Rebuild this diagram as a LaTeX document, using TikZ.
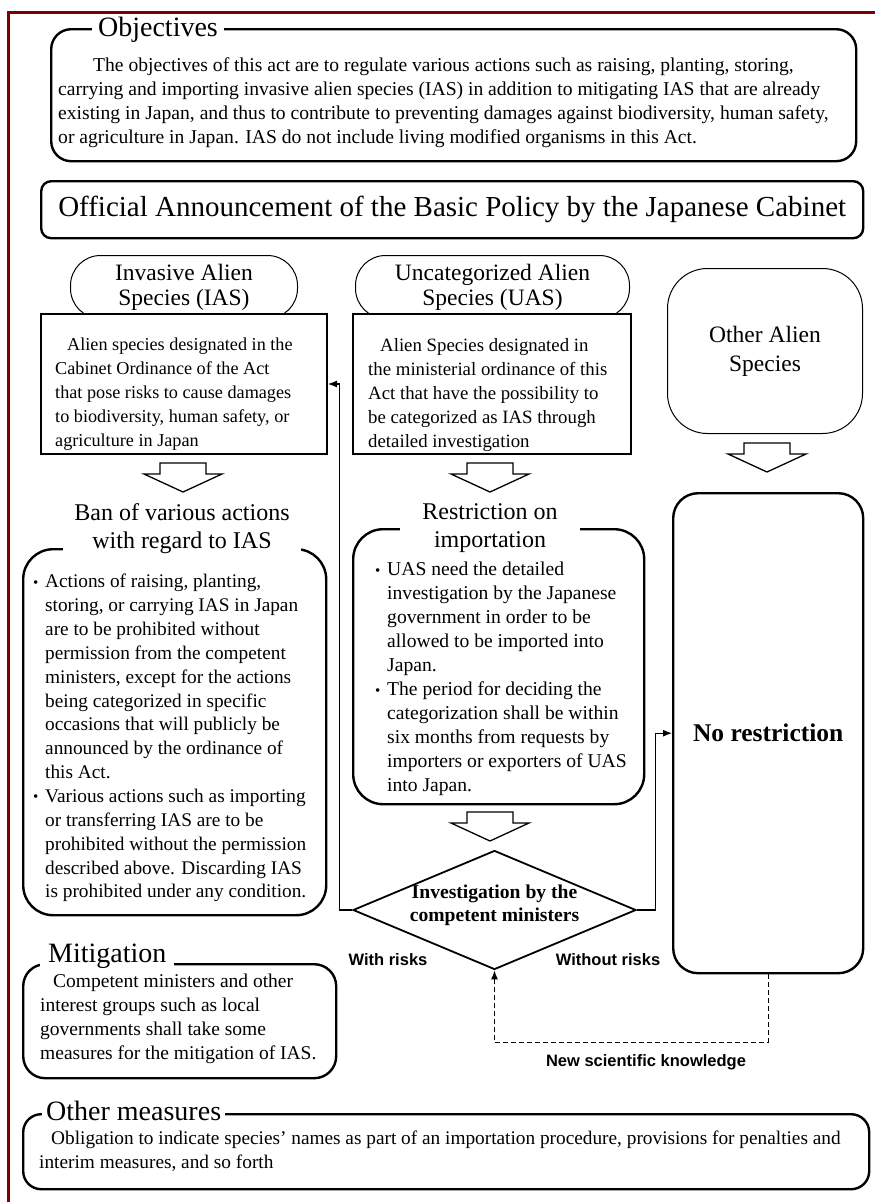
\documentclass[tikz,border=0pt]{standalone}
\usepackage{fontspec}
\setmainfont{Liberation Serif}
\newfontfamily\lsans{Liberation Sans}
\usetikzlibrary{shapes.geometric,arrows.meta}
\definecolor{framered}{RGB}{128,0,0}
\newcommand{\bul}{\makebox[12pt][l]{\raisebox{0.5pt}{\fontsize{15}{15}\selectfont\textbullet}}}
\newcommand{\ind}{\hspace*{12pt}}
\begin{document}
\begin{tikzpicture}[x=1pt,y=-1pt,
  heavy/.style={draw, line width=2.4pt},
  thinline/.style={draw, line width=1pt},
  body/.style={anchor=north west, inner sep=0pt, align=left},
  ttl/.style={fill=white, inner ysep=1pt, inner xsep=6pt, align=center},
  arr/.style={line width=1.1pt, -{Latex[length=9pt,width=7pt]}},
  lbl/.style={font=\lsans\bfseries\fontsize{16.5}{19}\selectfont},
  harrow/.pic={\draw[line width=1.3pt, fill=white] (-23,0) -- (23,0) -- (23,11) -- (39,11) -- (0,29) -- (-39,11) -- (-23,11) -- cycle;}
]
\useasboundingbox (0,0) rectangle (875,1202);
\fill[white] (0,0) rectangle (875,1202);
% frame
\draw[framered, line width=3pt] (8,1202) -- (8,12) -- (875,12);

% Objectives
\node[heavy, rounded corners=20pt, minimum width=805, minimum height=132, anchor=north west] (objbox) at (50,28) {};
\node[ttl, font=\fontsize{28}{30}\selectfont] (objt) at (158,30) {Objectives};
\node[body, font=\fontsize{19.6}{24}\selectfont] (objtx) at (58,57.5) {\hspace*{35pt}The objectives of this act are to regulate various actions such as raising, planting, storing,\\carrying and importing invasive alien species (IAS) in addition to mitigating IAS that are already\\existing in Japan, and thus to contribute to preventing damages against biodiversity, human safety,\\or agriculture in Japan. IAS do not include living modified organisms in this Act.};

% Policy
\node[heavy, rounded corners=10pt, minimum width=822, minimum height=57, anchor=north west, font=\fontsize{29}{32}\selectfont] (policy) at (40,180) {Official Announcement of the Basic Policy by the Japanese Cabinet};

% IAS
\node[thinline, rounded corners=30pt, minimum width=227, minimum height=63, anchor=north west, fill=white, align=center, font=\fontsize{23.5}{25}\selectfont] (iaslab) at (70,255) {Invasive Alien\\Species (IAS)};
\node[draw, line width=2pt, fill=white, minimum width=286, minimum height=140, anchor=north west] (iasrect) at (40,313) {};
\node[body, font=\fontsize{18.2}{24}\selectfont] (iastx) at (55,338) {\ind Alien species designated in the\\Cabinet Ordinance of the Act\\that pose risks to cause damages\\to biodiversity, human safety, or\\agriculture in Japan};

% UAS
\node[thinline, rounded corners=30pt, minimum width=274, minimum height=63, anchor=north west, fill=white, align=center, font=\fontsize{23.5}{25}\selectfont] (uaslab) at (355,255) {Uncategorized Alien\\Species (UAS)};
\node[draw, line width=2pt, fill=white, minimum width=278, minimum height=140, anchor=north west] (uasrect) at (352,313) {};
\node[body, font=\fontsize{18.8}{24}\selectfont] (uastx) at (368,338) {\ind Alien Species designated in\\the ministerial ordinance of this\\Act that have the possibility to\\be categorized as IAS through\\detailed investigation};

% Other alien species
\node[thinline, rounded corners=40pt, minimum width=195, minimum height=165, anchor=north west, align=center, font=\fontsize{23.5}{29}\selectfont] (other) at (667,268) {Other Alien\\Species};

% hollow arrows
\pic at (183,463) {harrow};
\pic at (490,463) {harrow};
\pic at (767,443) {harrow};
\pic at (490,812) {harrow};

% Ban box
\node[heavy, rounded corners=30pt, minimum width=303, minimum height=366, anchor=north west] (banbox) at (22,548) {};
\node[ttl, font=\fontsize{24}{28}\selectfont, minimum width=238] (bant) at (182,529) {Ban of various actions\\with regard to IAS};
\node[body, font=\fontsize{19.3}{23.85}\selectfont] (bantx) at (33,574) {\bul Actions of raising, planting,\\\ind storing, or carrying IAS in Japan\\\ind are to be prohibited without\\\ind permission from the competent\\\ind ministers, except for the actions\\\ind being categorized in specific\\\ind occasions that will publicly be\\\ind announced by the ordinance of\\\ind this Act.\\\bul Various actions such as importing\\\ind or transferring IAS are to be\\\ind prohibited without the permission\\\ind described above. Discarding IAS\\\ind is prohibited under any condition.};

% Restriction box
\node[heavy, rounded corners=30pt, minimum width=291, minimum height=275, anchor=north west] (resbox) at (352,528) {};
\node[ttl, font=\fontsize{24}{28}\selectfont, minimum width=180] (rest) at (490,528) {Restriction on\\importation};
\node[body, font=\fontsize{19.6}{24}\selectfont] (restx) at (375,562) {\bul UAS need the detailed\\\ind investigation by the Japanese\\\ind government in order to be\\\ind allowed to be imported into\\\ind Japan.\\\bul The period for deciding the\\\ind categorization shall be within\\\ind six months from requests by\\\ind importers or exporters of UAS\\\ind into Japan.};

% No restriction
\node[heavy, rounded corners=25pt, minimum width=190, minimum height=480, anchor=north west, font=\bfseries\fontsize{25.5}{30}\selectfont] (norestr) at (672,492) {No restriction};

% Diamond
\node[draw, line width=1.8pt, diamond, aspect=2.38, minimum width=283, minimum height=119, inner sep=0pt, fill=white] (inv) at (494.5,910) {};
\node[font=\bfseries\fontsize{19.6}{23}\selectfont, align=center] (invt) at (494.5,905) {Investigation by the\\competent ministers};

% connectors
\draw[arr] (inv.west) -- ++(-13,0) |- (iasrect.east);
\draw[arr] (inv.east) -- ++(19,0) |- (norestr.west);
\draw[arr, dash pattern=on 5pt off 3pt] (norestr.south) -- ++(0,68) -| (inv.south);

\node[lbl] (wr) at (388,960) {With risks};
\node[lbl] (wor) at (608,960) {Without risks};
\node[lbl] (nsk) at (646,1062) {New scientific knowledge};

% Mitigation
\node[heavy, rounded corners=22pt, minimum width=313, minimum height=114, anchor=north west] (mitbox) at (22,963) {};
\node[ttl, anchor=west, inner xsep=8pt, font=\fontsize{28}{30}\selectfont] (mitt) at (40,956) {Mitigation};
\node[body, font=\fontsize{19.5}{24}\selectfont] (mittx) at (40,973.5) {\hspace*{13pt}Competent ministers and other\\interest groups such as local\\governments shall take some\\measures for the mitigation of IAS.};

% Other measures
\node[heavy, rounded corners=18pt, minimum width=846, minimum height=75, anchor=north west] (othbox) at (22,1113) {};
\node[ttl, anchor=west, inner xsep=4pt, font=\fontsize{28}{30}\selectfont] (otht) at (42,1111) {Other measures};
\node[body, font=\fontsize{19.3}{24}\selectfont] (othtx) at (39,1131) {\ind Obligation to indicate species’ names as part of an importation procedure, provisions for penalties and\\interim measures, and so forth};
\end{tikzpicture}
\end{document}
